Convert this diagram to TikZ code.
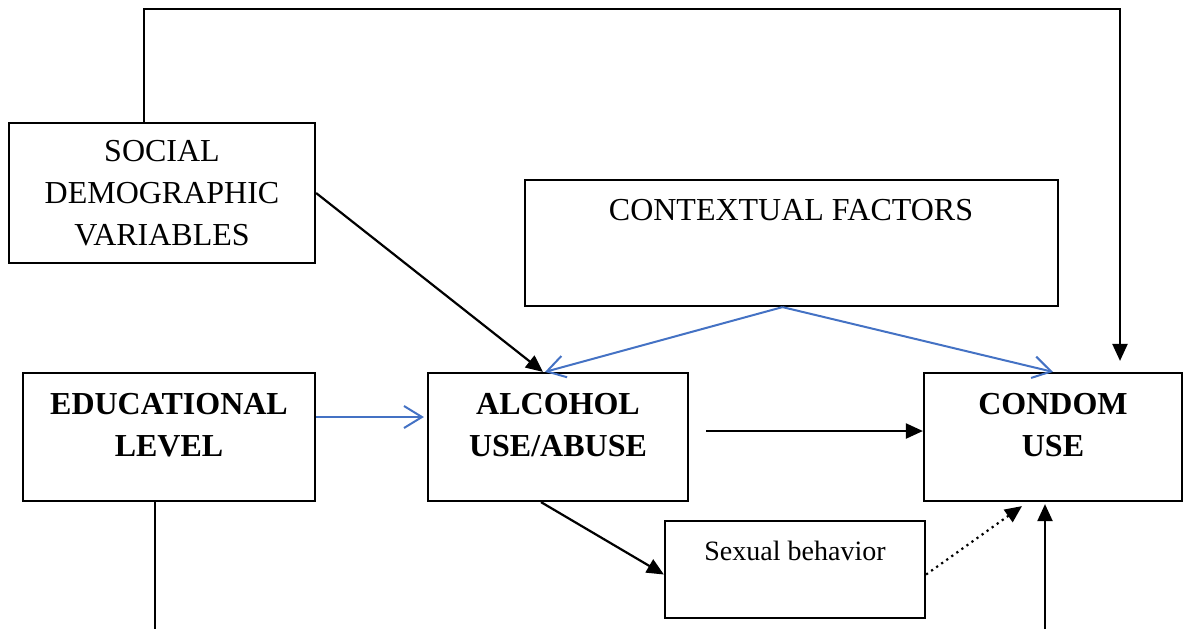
\documentclass[tikz,border=0pt]{standalone}
\usepackage{fontspec}
\setmainfont{Liberation Serif}
\usetikzlibrary{arrows.meta}
\definecolor{blueline}{RGB}{68,114,196}
\tikzset{
  box/.style={draw,line width=1.1pt,inner sep=0pt},
  txt/.style={font=\fontsize{16}{21}\selectfont,align=center},
  blk/.style={line width=1.1pt,-{Triangle[length=8.5pt,width=7.5pt]}},
  blu/.style={draw=blueline,line width=1pt,-{Straight Barb[length=9pt,width=11pt]}}
}

\begin{document}
\begin{tikzpicture}[x=0.5pt,y=-0.5pt]
\useasboundingbox (0,0) rectangle (1184,629);
\node[box,txt,minimum width=153pt,minimum height=70pt] (soc) at (162,193) {SOCIAL\\DEMOGRAPHIC\\VARIABLES};
\node[box,minimum width=266.5pt,minimum height=63pt] (ctx) at (791.5,243) {};
\node[txt] at (791,210) {CONTEXTUAL FACTORS};
\node[box,minimum width=146pt,minimum height=64pt] (edu) at (169,437) {};
\node[box,minimum width=130pt,minimum height=64pt] (alc) at (558,437) {};
\node[box,minimum width=129pt,minimum height=64pt] (con) at (1053,437) {};
\node[box,minimum width=130pt,minimum height=48.5pt] (sex) at (795,569.5) {};
\node[txt,font=\fontsize{16}{21}\selectfont\bfseries] at ([yshift=6pt]edu.center) {EDUCATIONAL\\LEVEL};
\node[txt,font=\fontsize{16}{21}\selectfont\bfseries] at ([yshift=6pt]alc.center) {ALCOHOL\\USE/ABUSE};
\node[txt,font=\fontsize{16}{21}\selectfont\bfseries] at ([yshift=6pt]con.center) {CONDOM\\USE};
\node[font=\fontsize{14}{17}\selectfont] at (795,551) {Sexual behavior};
\coordinate (t1) at (144,9);
\coordinate (t2) at (1120,9);
\coordinate (b1) at (155,629);
\coordinate (b2) at (1045,629);
\draw[blk] (t1 |- soc.north) -- (t1) -- (t2) -- ([yshift=5.5pt]t2 |- con.north);
\draw[blk] (soc.east) -- ([xshift=-7.5pt]alc.north);
\draw[blu] ([xshift=-4.5pt]ctx.south) -- ([xshift=-6.5pt]alc.north);
\draw[blu] ([xshift=-4.5pt]ctx.south) -- (con.north);
\draw[blu] ([yshift=10pt]edu.east) -- ([xshift=-1.5pt,yshift=10pt]alc.west);
\draw[blk] ([xshift=8.5pt,yshift=3pt]alc.east) -- ([yshift=3pt]con.west);
\draw[blk] ([xshift=-8.5pt]alc.south) -- ([yshift=-2.5pt]sex.west);
\draw[blk,dotted] ([yshift=-2.5pt]sex.east) -- ([xshift=-15.5pt,yshift=-2pt]con.south);
\draw[line width=1.1pt] (b1 |- edu.south) -- (b1);
\draw[blk] (b2) -- ([yshift=-1pt]b2 |- con.south);
\end{tikzpicture}
\end{document}
